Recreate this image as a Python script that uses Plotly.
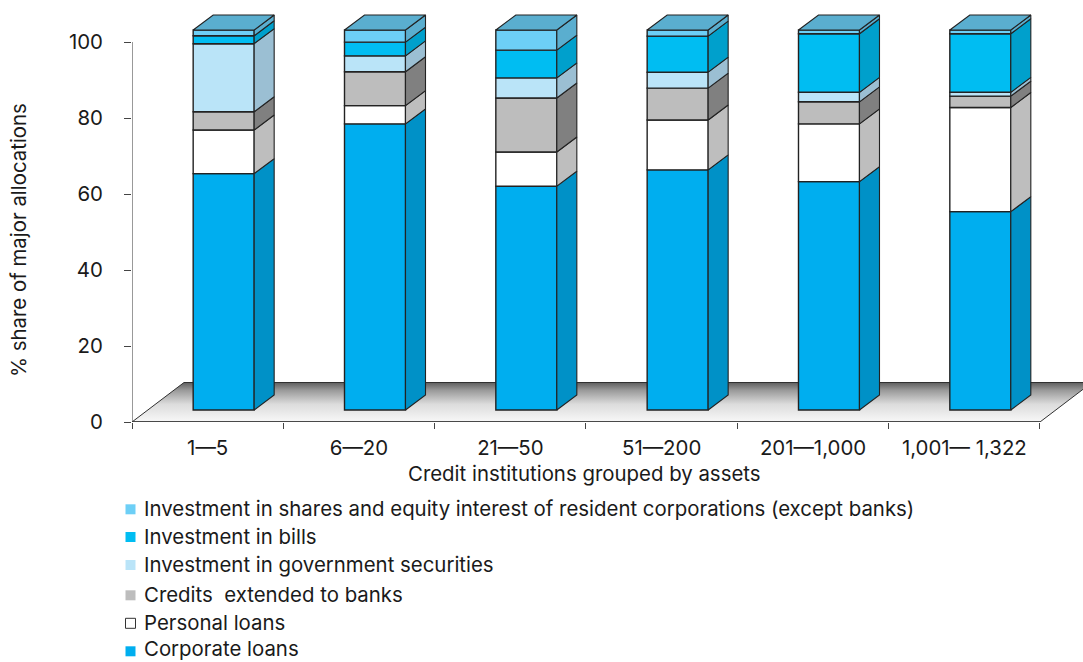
import plotly.graph_objects as go

categories = ["1—5", "6—20", "21—50", "51—200", "201—1,000", "1,001— 1,322"]
corporate = [62.2, 75.3, 58.9, 63.2, 60.1, 52.2]
personal = [11.5, 4.8, 9.0, 13.1, 15.2, 27.4]
credits_ = [4.8, 8.9, 14.2, 8.4, 5.8, 3.0]
government = [17.9, 4.2, 5.3, 4.2, 2.5, 1.0]
bills = [2.1, 3.6, 7.3, 9.5, 15.4, 15.4]
shares = [1.5, 3.2, 5.3, 1.6, 1.0, 1.0]

names = ["Corporate loans", "Personal loans", "Credits  extended to banks",
         "Investment in government securities", "Investment in bills",
         "Investment in shares and equity interest of resident corporations (except banks)"]
series = [corporate, personal, credits_, government, bills, shares]
front_colors = ["#00AEEF", "#FFFFFF", "#BDBDBD", "#BAE4F8", "#00BDF2", "#6DCFF6"]
side_colors = ["#0091C7", "#BEBEBE", "#808080", "#9BBFD3", "#00A0CC", "#5AAECF"]
top_color = "#5AAECF"
edge = "#222222"
ink = "#1A1A1A"
font_family = "Inter, Liberation Sans, Arial, sans-serif"
font_size = 20.4

W, H = 1083, 662
L, B = 132, 240
plot_h = H - B
cat_px = 151.33
y_px = 3.8
x_max = (W - L) / cat_px
y_max = plot_h / y_px


def ux(px):
    return px / cat_px


def uy(px):
    return px / y_px


def paper_x(px):
    return (px - L) / (W - L)


def paper_y(py):
    return (plot_h - py) / plot_h


bar_shift, bar_w = ux(16), ux(61)
lift = uy(12)
depth_x, depth_y = ux(20), uy(15)
floor_x, floor_y = ux(52), uy(39.5)
xs = [i + 0.5 + bar_shift for i in range(len(categories))]

fig = go.Figure()

# floor, on the lower subplot so that the bars stand on top of it
fig.add_trace(go.Scatter(
    x=[0, 6, 6 + floor_x, floor_x, 0], y=[0, 0, floor_y, floor_y, 0],
    mode="lines", fill="toself", line=dict(color="#303030", width=1),
    fillgradient=dict(type="vertical",
                      colorscale=[[0, "#F8F8F8"], [0.45, "#DCDCDC"], [0.8, "#9A9A9A"], [1, "#5E5E5E"]]),
    hoverinfo="skip", showlegend=False))
# axis lines stop at the first and last tick
fig.add_trace(go.Scatter(x=[0, 0], y=[0, 100], mode="lines", cliponaxis=False,
                         line=dict(color="#555555", width=1.2), hoverinfo="skip", showlegend=False))
fig.add_trace(go.Scatter(x=[0, 6], y=[0, 0], mode="lines", cliponaxis=False,
                         line=dict(color="#303030", width=1.5), hoverinfo="skip", showlegend=False))

cum = [lift] * len(categories)
for name, vals, fc, sc in zip(names, series, front_colors, side_colors):
    fig.add_trace(go.Bar(x=xs, y=vals, base=list(cum), width=bar_w, name=name,
                         marker=dict(color=fc, line=dict(color=edge, width=1.4)),
                         xaxis="x2", yaxis="y2", showlegend=False))
    for x, c, v in zip(xs, cum, vals):
        xr = x + bar_w / 2
        fig.add_trace(go.Scatter(
            x=[xr, xr + depth_x, xr + depth_x, xr, xr],
            y=[c, c + depth_y, c + v + depth_y, c + v, c],
            mode="lines", fill="toself", fillcolor=sc, line=dict(color=edge, width=1.1),
            xaxis="x2", yaxis="y2", hoverinfo="skip", showlegend=False))
    cum = [c + v for c, v in zip(cum, vals)]

for x, c in zip(xs, cum):
    xl, xr = x - bar_w / 2, x + bar_w / 2
    fig.add_trace(go.Scatter(
        x=[xl, xr, xr + depth_x, xl + depth_x, xl],
        y=[c, c, c + depth_y, c + depth_y, c],
        mode="lines", fill="toself", fillcolor=top_color, line=dict(color=edge, width=1.1),
        xaxis="x2", yaxis="y2", hoverinfo="skip", showlegend=False))

annotations = [
    dict(text="Credit institutions grouped by assets", xref="paper", yref="paper",
         x=paper_x(584), y=paper_y(473), xanchor="center", yanchor="middle", showarrow=False),
    dict(text="% share of major allocations", xref="paper", yref="paper",
         x=paper_x(18), y=paper_y(240), xanchor="center", yanchor="middle", showarrow=False,
         textangle=-90),
]
shapes = []
legend_rows = [509.3, 537, 565, 595.3, 623.3, 651.3]
legend_text_rows = [508.5, 536, 564, 594.5, 622.5, 648.5]
for row, text_row, name, fc in zip(legend_rows, legend_text_rows, names[::-1], front_colors[::-1]):
    annotations.append(dict(text=name, xref="paper", yref="paper", x=paper_x(142), y=paper_y(text_row),
                            xanchor="left", yanchor="middle", showarrow=False))
    line = dict(color="#333333", width=1) if fc == "#FFFFFF" else dict(width=0)
    shapes.append(dict(type="rect", xref="paper", yref="paper",
                       x0=paper_x(125.5), x1=paper_x(135.5), y0=paper_y(row - 5), y1=paper_y(row + 5),
                       fillcolor=fc, line=line))

fig.update_layout(
    width=W, height=H, barmode="overlay", showlegend=False,
    margin=dict(l=L, r=0, t=0, b=B, pad=0),
    paper_bgcolor="white", plot_bgcolor="white",
    font=dict(family=font_family, size=font_size, color=ink),
    xaxis=dict(range=[0, x_max], tickmode="array", tickvals=[i + 0.5 for i in range(6)],
               ticktext=categories, ticks="", showgrid=False, zeroline=False, showline=False,
               ticklabelstandoff=12,
               minor=dict(tickmode="array", tickvals=list(range(7)), ticks="outside", ticklen=6,
                          tickcolor="#444444", tickwidth=1, showgrid=False)),
    yaxis=dict(range=[0, y_max], tickmode="array", tickvals=[0, 20, 40, 60, 80, 100],
               ticks="outside", ticklen=7, tickcolor="#444444", tickwidth=1, showgrid=False,
               zeroline=False, showline=False, ticklabelstandoff=17),
    xaxis2=dict(range=[0, x_max], overlaying="x", visible=False),
    yaxis2=dict(range=[0, y_max], overlaying="y", visible=False),
    annotations=annotations, shapes=shapes,
)

fig.write_html("out.html", config=dict(displayModeBar=False),
               post_script="document.body.style.margin='0';document.body.style.overflow='hidden';")
